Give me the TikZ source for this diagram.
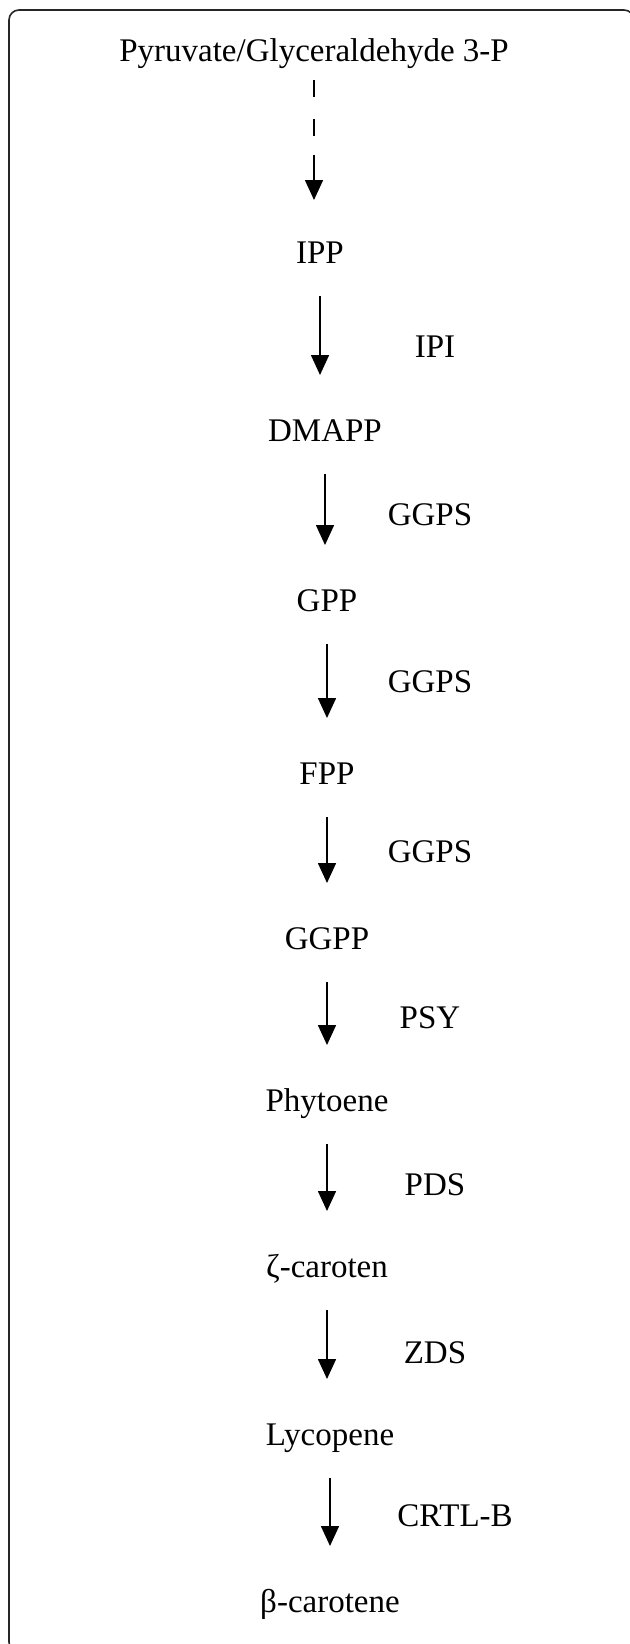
\documentclass[tikz,border=0pt]{standalone}
\usepackage{fontspec}
\setmainfont{Liberation Serif}
\usetikzlibrary{arrows.meta}

\begin{document}
\begin{tikzpicture}[x=0.5pt,y=-0.5pt,
  met/.style={inner sep=0pt, text height=11pt, text depth=0pt, font=\fontsize{16.5}{19}\selectfont},
  enz/.style={met},
  flow/.style={line width=0.8pt, -{Triangle[width=9pt,length=10pt]}, shorten <=16.5pt, shorten >=27.5pt}]
\useasboundingbox (0,0) rectangle (629,1644);
\draw[line width=0.8pt, rounded corners=5pt, black!85] (9,10) rectangle (634,1652);

% metabolites
\node[met] (pyr) at (314,50) {Pyruvate/Glyceraldehyde 3-P};
\node[met] (ipp) at (320,252) {IPP};
\node[met] (dmapp) at (325,430) {DMAPP};
\node[met] (gpp) at (327,600) {GPP};
\node[met] (fpp) at (327,773) {FPP};
\node[met] (ggpp) at (327,938) {GGPP};
\node[met] (phy) at (327,1100) {Phytoene};
\node[met] (zcar) at (327,1266) {ζ-caroten};
\node[met] (lyc) at (330,1434) {Lycopene};
\node[met] (bcar) at (330,1601) {β-carotene};

% enzymes
\node[enz] (ipi) at (435,346) {IPI};
\node[enz] (ggps1) at (430,514) {GGPS};
\node[enz] (ggps2) at (430,681) {GGPS};
\node[enz] (ggps3) at (430,851) {GGPS};
\node[enz] (psy) at (430,1017) {PSY};
\node[enz] (pds) at (435,1184) {PDS};
\node[enz] (zds) at (435,1352) {ZDS};
\node[enz] (crtl) at (455,1515) {CRTL-B};

\draw[line width=0.8pt, -{Triangle[width=9pt,length=10pt]},
  dash pattern=on 8.5pt off 11pt on 8.5pt off 9.5pt on 40pt off 1pt,
  shorten <=9.5pt, shorten >=26pt] (pyr) -- (pyr |- ipp);
\foreach \a/\b in {ipp/dmapp, dmapp/gpp, gpp/fpp, fpp/ggpp, ggpp/phy, phy/zcar, zcar/lyc, lyc/bcar}
  \draw[flow] (\a) -- (\a |- \b);
\end{tikzpicture}
\end{document}
